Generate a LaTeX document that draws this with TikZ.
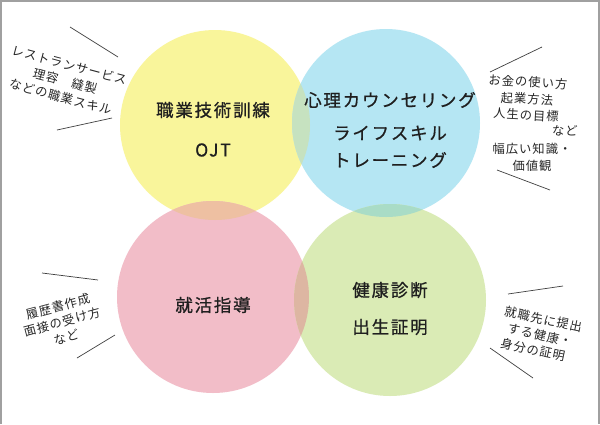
\documentclass[tikz,border=0pt]{standalone}
\usepackage{fontspec}
\newfontfamily\jp[LetterSpace=8]{Noto Sans CJK JP}
\newfontfamily\jpm[FakeBold=0.8,LetterSpace=10]{Noto Sans CJK JP}
\definecolor{cyel}{HTML}{F9F59B}
\definecolor{cblu}{HTML}{B5E6F3}
\definecolor{cpnk}{HTML}{F2BDC8}
\definecolor{cgrn}{HTML}{DAEBB5}
\definecolor{cyb}{HTML}{C6E2C0}
\definecolor{cyp}{HTML}{EEC0A2}
\definecolor{cbg}{HTML}{A9DCC6}
\definecolor{cpg}{HTML}{DDB6A2}
\definecolor{frame}{HTML}{A0A0A0}
\begin{document}
\begin{tikzpicture}[x=1pt,y=-1pt,
  bub/.style={circle,minimum size=190pt,inner sep=0pt,draw=none},
  main/.style={font=\jpm\fontsize{17.5}{20}\selectfont,inner sep=0pt,text=black!88},
  side/.style={font=\jp\fontsize{12.3}{15.5}\selectfont,inner sep=0pt,text=black!85},
  deco/.style={draw=black!75,line width=0.7pt}]
\useasboundingbox (0,0) rectangle (600,424);
\fill[white] (0,0) rectangle (600,424);
\draw[frame,line width=1.5pt] (1,424) -- (1,1) -- (599,1) -- (599,424);
% circles
\node[bub,fill=cyel] (yc) at (215,125) {};
\node[bub,fill=cblu,minimum size=188pt] (bc) at (386,123) {};
\node[bub,fill=cpnk,minimum size=192pt] (pc) at (213,297) {};
\node[bub,fill=cgrn,minimum size=192pt] (gc) at (390,300) {};
% overlaps
\begin{scope}
  \clip (215,125) circle (95);
  \fill[cyb] (386,123) circle (94);
\end{scope}
\begin{scope}
  \clip (215,125) circle (95);
  \fill[cyp] (213,297) circle (96);
\end{scope}
\begin{scope}
  \clip (386,123) circle (94);
  \fill[cbg] (390,300) circle (96);
\end{scope}
\begin{scope}
  \clip (213,297) circle (96);
  \fill[cpg] (390,300) circle (96);
\end{scope}
% main labels
\node[main] (t1) at (213,110) {職業技術訓練};
\node[main] (t2) at (213,150) {OJT};
\node[main] (t3) at (390,100) {心理カウンセリング};
\node[main] (t4) at (390,133) {ライフスキル};
\node[main] (t5) at (390,160) {トレーニング};
\node[main] (t6) at (213,305) {就活指導};
\node[main] (t7) at (390,290) {健康診断};
\node[main] (t8) at (390,327) {出生証明};
% side notes: top left
\begin{scope}[shift={(65,81)},rotate=-15]
  \node[side,transform shape] (s1a) at (0,-16.5) {レストランサービス};
  \node[side,transform shape] (s1b) at (0,0) {理容　縫製};
  \node[side,transform shape] (s1c) at (0,16.5) {などの職業スキル};
\end{scope}
\draw[deco] (70,27) -- (118,57);
\draw[deco] (57,130) -- (112,118);
% top right
\node[side,rotate=-3] (s2a) at (528,82) {お金の使い方};
\node[side,rotate=-3] (s2b) at (527,99) {起業方法};
\node[side,rotate=-3] (s2c) at (526,115) {人生の目標};
\node[side] (s2d) at (565,131) {など};
\node[side] (s2e) at (532,149) {幅広い知識・};
\node[side] (s2f) at (532,166) {価値観};
\draw[deco] (490,72) -- (542,47);
\draw[deco] (497,170) -- (550,190);
% bottom left
\begin{scope}[shift={(62,322)},rotate=15]
  \node[side,transform shape] (s3a) at (0,-16) {履歴書作成};
  \node[side,transform shape] (s3b) at (0,0) {面接の受け方};
  \node[side,transform shape] (s3c) at (0,16) {など};
\end{scope}
\draw[deco] (42,273) -- (98,280);
\draw[deco] (77,358) -- (115,335);
% bottom right
\begin{scope}[shift={(540,335)},rotate=-12]
  \node[side,transform shape] (s4a) at (0,-16) {就職先に提出};
  \node[side,transform shape] (s4b) at (0,0) {する健康・};
  \node[side,transform shape] (s4c) at (-4,16) {身分の証明};
\end{scope}
\draw[deco] (508,294) -- (563,286);
\draw[deco] (490,348) -- (533,378);
\end{tikzpicture}
\end{document}
